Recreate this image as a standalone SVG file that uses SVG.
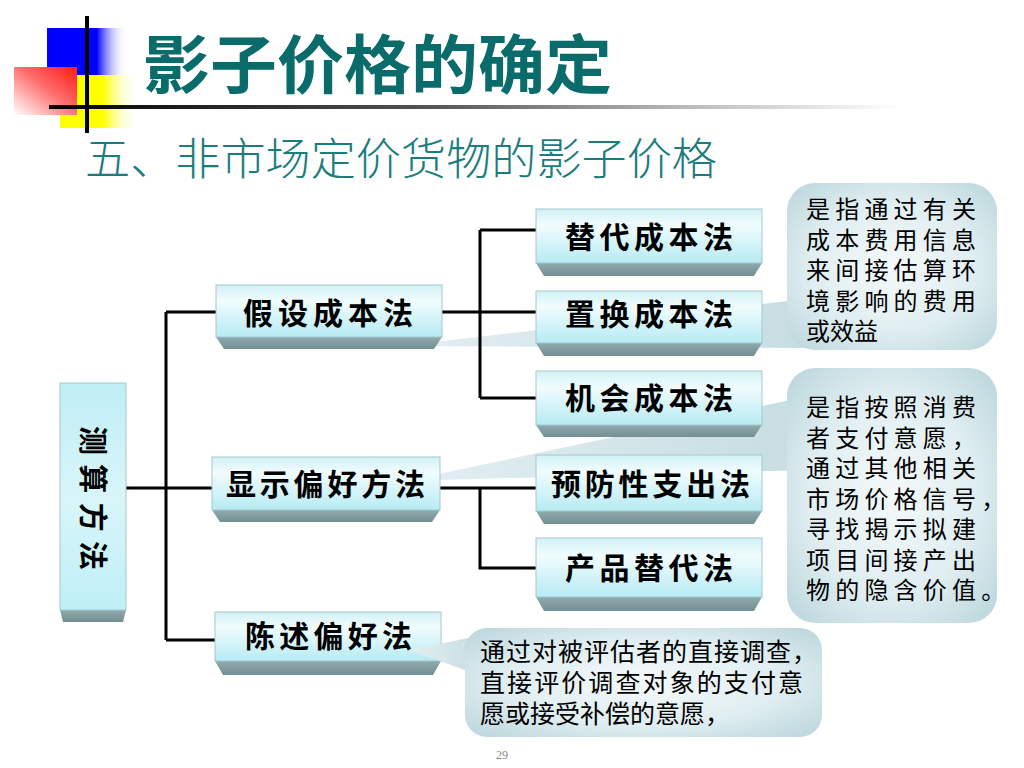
<svg xmlns="http://www.w3.org/2000/svg" width="1024" height="768" viewBox="0 0 1024 768">
<defs>
<linearGradient id="gBlue" x1="0" y1="0" x2="1" y2="0">
<stop offset="0" stop-color="#0000ff"/><stop offset="0.62" stop-color="#0000ff"/><stop offset="1" stop-color="#ffffff" stop-opacity="0"/>
</linearGradient>
<linearGradient id="gYellow" x1="0" y1="0" x2="1" y2="0">
<stop offset="0" stop-color="#ffff00"/><stop offset="0.55" stop-color="#ffff00"/><stop offset="1" stop-color="#ffffff" stop-opacity="0"/>
</linearGradient>
<linearGradient id="gRed" x1="1" y1="0" x2="0" y2="1">
<stop offset="0" stop-color="#ff1a1a"/><stop offset="0.45" stop-color="#ff6a6a"/><stop offset="1" stop-color="#ffffff"/>
</linearGradient>
<linearGradient id="gRule" x1="49" y1="0" x2="900" y2="0" gradientUnits="userSpaceOnUse">
<stop offset="0" stop-color="#000000"/><stop offset="0.45" stop-color="#555555"/><stop offset="0.75" stop-color="#bbbbbb"/><stop offset="1" stop-color="#ffffff"/>
</linearGradient>
<linearGradient id="gFace" x1="0" y1="0" x2="0" y2="1">
<stop offset="0" stop-color="#d2f1f6"/><stop offset="0.3" stop-color="#f1fcfe"/><stop offset="1" stop-color="#b6ebf3"/>
</linearGradient>
<linearGradient id="gFaceV" x1="0" y1="0" x2="0" y2="1">
<stop offset="0" stop-color="#bfeef5"/><stop offset="0.5" stop-color="#d8f6fa"/><stop offset="1" stop-color="#bfeff6"/>
</linearGradient>
<linearGradient id="gBevel" x1="0" y1="0" x2="0" y2="1">
<stop offset="0" stop-color="#8fabad"/><stop offset="1" stop-color="#738f92"/>
</linearGradient>
<radialGradient id="gCall" cx="0.5" cy="0.5" r="0.65">
<stop offset="0" stop-color="#f4f9fa"/><stop offset="0.6" stop-color="#e0eef1"/><stop offset="1" stop-color="#bfd9df"/>
</radialGradient>
<linearGradient id="gTail" x1="0" y1="0" x2="1" y2="0">
<stop offset="0" stop-color="#e4eff2"/><stop offset="1" stop-color="#c6dde2"/>
</linearGradient>
<style>
.face{fill:url(#gFace);stroke:#a6c7cd;stroke-width:1}
.bevel{fill:url(#gBevel)}
.nt{font-family:"Noto Sans CJK SC","Noto Sans CJK TC",sans-serif;font-size:30px;font-weight:bold;fill:#000}
.ct{font-family:"Noto Sans CJK SC","Noto Sans CJK TC",sans-serif;font-size:24px;fill:#000;letter-spacing:5.2px}
.ct3{font-family:"Noto Sans CJK SC","Noto Sans CJK TC",sans-serif;font-size:25px;fill:#000}
.call{fill:url(#gCall)}
.tail{fill:url(#gTail)}
.conn{fill:none;stroke:#000;stroke-width:3}
</style>
</defs>
<rect width="1024" height="768" fill="#ffffff"/>

<g id="decor">
<rect x="47" y="28" width="80" height="47" fill="url(#gBlue)"/>
<rect x="60" y="75" width="78" height="53" fill="url(#gYellow)"/>
<rect x="14" y="67" width="63" height="48" fill="url(#gRed)"/>
<line x1="49" y1="107" x2="900" y2="107" stroke="url(#gRule)" stroke-width="4"/>
<line x1="87" y1="16" x2="87" y2="133" stroke="#000" stroke-width="4"/>
</g>

<g id="title">
<text x="143" y="88" textLength="469" lengthAdjust="spacingAndGlyphs" style="font-family:'Noto Sans CJK SC',sans-serif;font-size:64px;font-weight:bold;fill:#0a6b6b">影子价格的确定</text>
<text x="85" y="175" textLength="632" lengthAdjust="spacingAndGlyphs" style="font-family:'Noto Sans CJK SC',sans-serif;font-size:44px;font-weight:300;fill:#1b7c7d">五、非市场定价货物的影子价格</text>
</g>

<g id="callout1">
<polygon class="tail" points="400,346 805,299 805,348"/>
<rect class="call" x="787" y="183" width="210" height="167" rx="28"/>
<text class="ct" x="806" y="218">是指通过有关</text>
<text class="ct" x="806" y="248.5">成本费用信息</text>
<text class="ct" x="806" y="279">来间接估算环</text>
<text class="ct" x="806" y="309.5">境影响的费用</text>
<text class="ct" x="806" y="340" style="letter-spacing:0">或效益</text>
</g>

<g id="callout2">
<polygon class="tail" points="405,481 805,397 805,470"/>
<rect class="call" x="787" y="368" width="210" height="255" rx="28"/>
<text class="ct" x="806" y="416">是指按照消费</text>
<text class="ct" x="806" y="446.5">者支付意愿，</text>
<text class="ct" x="806" y="477">通过其他相关</text>
<text class="ct" x="806" y="507.5">市场价格信号，</text>
<text class="ct" x="806" y="538">寻找揭示拟建</text>
<text class="ct" x="806" y="568.5">项目间接产出</text>
<text class="ct" x="806" y="599">物的隐含价值。</text>
</g>

<g id="connectors">
<path class="conn" d="M126,488 H212 M166,312 V640 M166,312 H216 M166,640 H215"/>
<path class="conn" d="M442,312 H536 M480,230 V398 M480,230 H536 M480,398 H536"/>
<path class="conn" d="M440,488 H536 M480,488 V568 H536"/>
</g>

<g id="n-cesuan">
<polygon class="bevel" points="60,610 126,610 123,622 63,622"/>
<rect x="60" y="383" width="66" height="227" fill="url(#gFaceV)" stroke="#a6c7cd" stroke-width="1"/>
<text class="nt" transform="translate(93,426) rotate(90)" x="0" y="11" textLength="144" lengthAdjust="spacing" style="font-size:29px">测算方法</text>
</g>

<g id="n-jiashe">
<polygon class="bevel" points="216,337 442,337 434,349 224,349"/>
<rect class="face" x="216" y="285" width="226" height="52"/>
<text class="nt" x="243" y="324" textLength="170" lengthAdjust="spacing">假设成本法</text>
</g>

<g id="n-xianshi">
<polygon class="bevel" points="212,510 440,510 432,522 220,522"/>
<rect class="face" x="212" y="457" width="228" height="53"/>
<text class="nt" x="226" y="495" textLength="199" lengthAdjust="spacing">显示偏好方法</text>
</g>

<g id="n-chenshu">
<polygon class="bevel" points="215,661 441,661 433,675 223,675"/>
<rect class="face" x="215" y="612" width="226" height="49"/>
<text class="nt" x="245" y="647" textLength="167" lengthAdjust="spacing">陈述偏好法</text>
</g>

<g id="n-tidai">
<polygon class="bevel" points="536,263 762,263 754,276 544,276"/>
<rect class="face" x="536" y="209" width="226" height="54"/>
<text class="nt" x="565" y="248" textLength="168" lengthAdjust="spacing">替代成本法</text>
</g>

<g id="n-zhihuan">
<polygon class="bevel" points="536,343 762,343 754,356 544,356"/>
<rect class="face" x="536" y="291" width="226" height="52"/>
<text class="nt" x="565" y="325" textLength="168" lengthAdjust="spacing">置换成本法</text>
</g>

<g id="n-jihui">
<polygon class="bevel" points="536,425 762,425 754,437 544,437"/>
<rect class="face" x="536" y="371" width="226" height="54"/>
<text class="nt" x="565" y="409" textLength="168" lengthAdjust="spacing">机会成本法</text>
</g>

<g id="n-yufang">
<polygon class="bevel" points="536,511 762,511 754,524 544,524"/>
<rect class="face" x="536" y="455" width="226" height="56"/>
<text class="nt" x="551" y="495" textLength="199" lengthAdjust="spacing">预防性支出法</text>
</g>

<g id="n-chanpin">
<polygon class="bevel" points="536,597 762,597 754,611 544,611"/>
<rect class="face" x="536" y="538" width="226" height="59"/>
<text class="nt" x="565" y="579" textLength="168" lengthAdjust="spacing">产品替代法</text>
</g>

<g id="callout3">
<polygon class="tail" points="410,650 478,636 478,675"/>
<rect class="call" x="465" y="628" width="357" height="109" rx="22"/>
<text class="ct3" x="480" y="661" textLength="337" lengthAdjust="spacing">通过对被评估者的直接调查，</text>
<text class="ct3" x="480" y="692" textLength="323" lengthAdjust="spacing">直接评价调查对象的支付意</text>
<text class="ct3" x="480" y="723" textLength="250" lengthAdjust="spacing">愿或接受补偿的意愿，</text>
</g>

<text x="502" y="759" text-anchor="middle" style="font-family:'Liberation Serif',serif;font-size:12px;fill:#888888">29</text>
</svg>
